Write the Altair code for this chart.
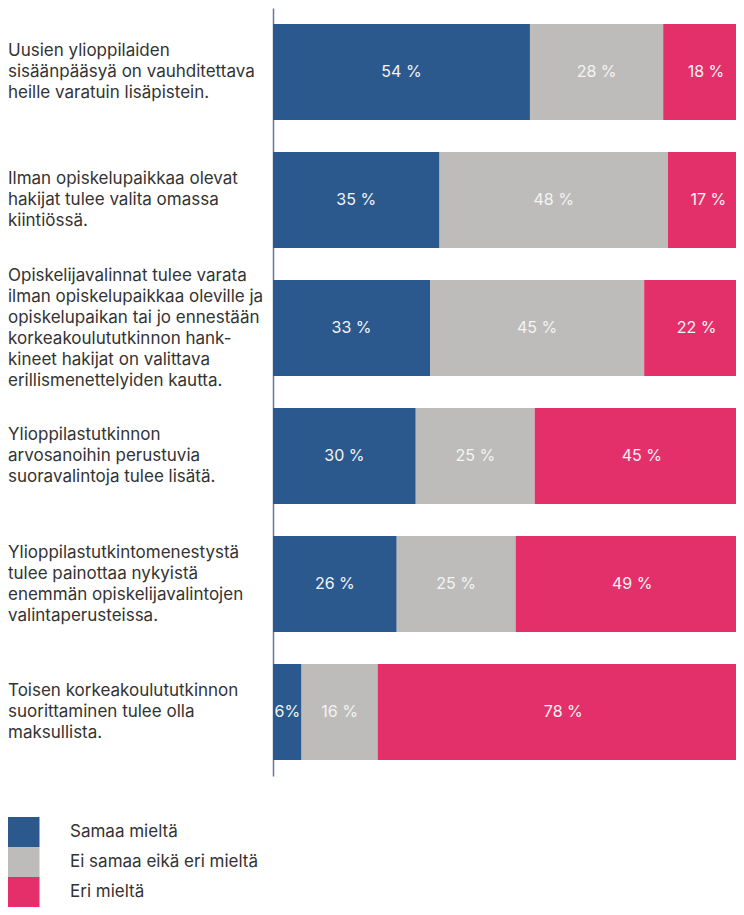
import altair as alt
import pandas as pd

categories = [
    "Uusien ylioppilaiden\nsisäänpääsyä on vauhditettava\nheille varatuin lisäpistein.",
    "Ilman opiskelupaikkaa olevat\nhakijat tulee valita omassa\nkiintiössä.",
    "Opiskelijavalinnat tulee varata\nilman opiskelupaikkaa oleville ja\nopiskelupaikan tai jo ennestään\nkorkeakoulututkinnon hank-\nkineet hakijat on valittava\nerillismenettelyiden kautta.",
    "Ylioppilastutkinnon\narvosanoihin perustuvia\nsuoravalintoja tulee lisätä.",
    "Ylioppilastutkintomenestystä\ntulee painottaa nykyistä\nenemmän opiskelijavalintojen\nvalintaperusteissa.",
    "Toisen korkeakoulututkinnon\nsuorittaminen tulee olla\nmaksullista.",
]
groups = ["Samaa mieltä", "Ei samaa eikä eri mieltä", "Eri mieltä"]
colors = ["#2C598D", "#BDBCBA", "#E3306B"]
samaa = [54, 35, 33, 30, 26, 6]
ei_samaa = [28, 48, 45, 25, 25, 16]
eri = [18, 17, 22, 45, 49, 78]
label_samaa = ["54 %", "35 %", "33 %", "30 %", "26 %", "6%"]
label_ei = ["28 %", "48 %", "45 %", "25 %", "25 %", "16 %"]
label_eri = ["18 %", "17 %", "22 %", "45 %", "49 %", "78 %"]

rows = []
series = [samaa, ei_samaa, eri]
labels = [label_samaa, label_ei, label_eri]
for ci, cat in enumerate(categories):
    start = 0
    for gi, g in enumerate(groups):
        v = series[gi][ci]
        rows.append({
            "category": cat, "group": g, "order": gi, "value": v,
            "start": start, "end": start + v, "mid": start + v / 2,
            "label": labels[gi][ci],
        })
        start += v
df = pd.DataFrame(rows)
cat_df = pd.DataFrame({
    "category": categories,
    "nlines": [c.count("\n") + 1 for c in categories],
})

FONT = "Inter"
LINE_H = 21

y_enc = alt.Y(
    "category:N", sort=categories, title=None,
    scale=alt.Scale(paddingInner=0.25, paddingOuter=0.125),
    axis=alt.Axis(labels=False, ticks=False, domain=True,
                  domainColor="#5F7CA8", domainWidth=1.5, grid=False),
)
x_scale = alt.Scale(domain=[0, 97.3], nice=False, zero=True)

bars = alt.Chart(df).mark_bar(strokeWidth=0, clip=True).encode(
    x=alt.X("start:Q", scale=x_scale, axis=None),
    x2="end:Q",
    y=y_enc,
    color=alt.Color(
        "group:N",
        scale=alt.Scale(domain=groups, range=colors),
        legend=alt.Legend(
            title=None, orient="none", legendX=-265, legendY=809,
            direction="vertical",
            symbolType="M-1.1,-1H1.1V1H-1.1Z", symbolSize=900,
            symbolStrokeWidth=0, symbolOpacity=1, labelFontSize=17,
            labelFont=FONT, labelColor="#333333", labelOffset=32,
            rowPadding=0, padding=0, labelLimit=400,
        ),
    ),
    order="order:Q",
)

seg_text = alt.Chart(df).mark_text(
    color="#F4F4F4", fontSize=16, font=FONT, align="center", baseline="middle"
).encode(
    x=alt.X("mid:Q", scale=x_scale),
    y=alt.Y("category:N", sort=categories),
    text="label:N",
)

cat_layers = []
for n in sorted(set(cat_df["nlines"])):
    cat_layers.append(
        alt.Chart(cat_df).transform_filter(alt.datum.nlines == n).mark_text(
            align="left", baseline="middle", fontSize=17, font=FONT,
            color="#333333", lineBreak="\n", lineHeight=LINE_H,
            dy=-(n - 1) * LINE_H / 2,
        ).encode(
            x=alt.value(-265),
            y=alt.Y("category:N", sort=categories),
            text="category:N",
        )
    )

chart = alt.layer(bars, seg_text, *cat_layers).properties(
    width=463, height=768, padding=0,
).configure_view(stroke=None)

chart.save("out.html", embed_options={"renderer": "svg", "actions": False})
